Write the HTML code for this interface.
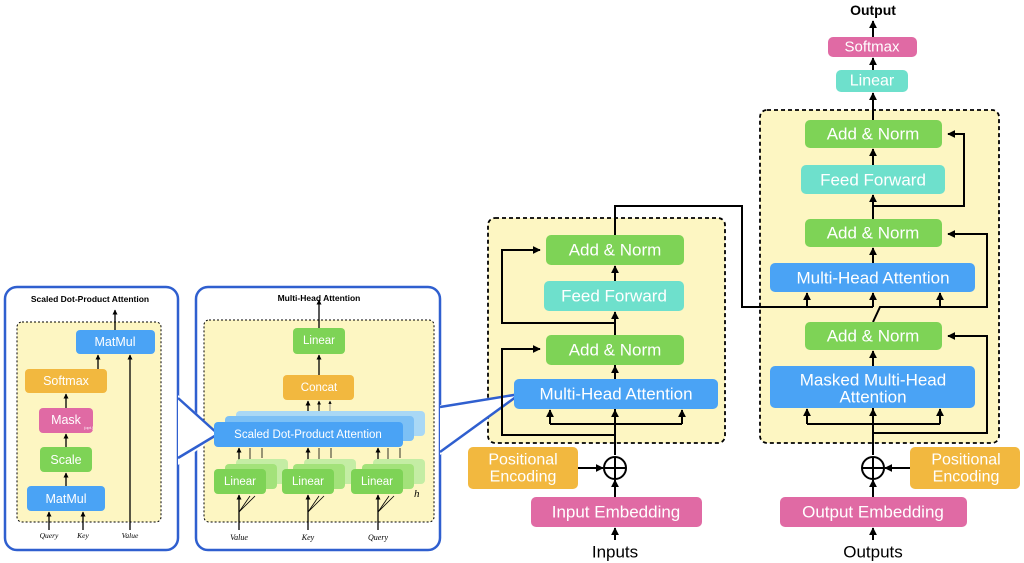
<!DOCTYPE html>
<html><head><meta charset="utf-8"><style>
html,body{margin:0;padding:0;background:#fff;}
svg{display:block;font-family:"Liberation Sans",sans-serif;}
.w{fill:#fff;text-anchor:middle;dominant-baseline:central;}
</style></head><body>
<svg width="1024" height="563" viewBox="0 0 1024 563" xmlns="http://www.w3.org/2000/svg">
<defs>
<marker id="a" viewBox="0 0 10 10" refX="9" refY="5" markerWidth="4" markerHeight="4" orient="auto-start-reverse"><path d="M0,0 L10,5 L0,10 z" fill="#000"/></marker>
</defs>

<!-- Left panel 1 -->
<rect x="5" y="287" width="173" height="263" rx="12" fill="#fff" stroke="#2f5fcf" stroke-width="2.5"/>
<text x="90" y="299" text-anchor="middle" dominant-baseline="central" font-size="8.5" font-weight="bold">Scaled Dot-Product Attention</text>
<rect x="17" y="322" width="144" height="200" rx="5" fill="#fdf6c2" stroke="#000" stroke-dasharray="2,2"/>
<g stroke="#000" stroke-width="1.3" fill="none" marker-end="url(#a)">
<line x1="115" y1="330" x2="115" y2="310"/>
<line x1="98" y1="369" x2="98" y2="355"/>
<line x1="66" y1="408" x2="66" y2="394"/>
<line x1="66" y1="447" x2="66" y2="434"/>
<line x1="66" y1="486" x2="66" y2="473"/>
<line x1="49" y1="530" x2="49" y2="512"/>
<line x1="83" y1="530" x2="83" y2="512"/>
<line x1="130" y1="530" x2="130" y2="355"/>
</g>
<rect x="76" y="330" width="79" height="24" rx="4" fill="#4aa3f5"/><text class="w" x="115" y="342" font-size="12.5">MatMul</text>
<rect x="25" y="369" width="82" height="24" rx="4" fill="#f2b83f"/><text class="w" x="66" y="381" font-size="12.5">Softmax</text>
<rect x="39" y="408" width="54" height="25" rx="4" fill="#e06aa4"/><text class="w" x="66" y="420" font-size="12.5">Mask</text><text x="84" y="429" font-size="4" fill="#fff">(opt.)</text>
<rect x="40" y="447" width="52" height="25" rx="4" fill="#7ed356"/><text class="w" x="66" y="460" font-size="12.5">Scale</text>
<rect x="27" y="486" width="78" height="25" rx="4" fill="#4aa3f5"/><text class="w" x="66" y="499" font-size="12.5">MatMul</text>
<g font-family="Liberation Serif" font-style="italic" font-size="7.5" text-anchor="middle">
<text x="49" y="538">Query</text><text x="83" y="538">Key</text><text x="130" y="538">Value</text></g>

<!-- Panel 2 -->
<rect x="196" y="287" width="244" height="263" rx="12" fill="#fff" stroke="#2f5fcf" stroke-width="2.5"/>
<text x="319" y="298" text-anchor="middle" dominant-baseline="central" font-size="8.5" font-weight="bold">Multi-Head Attention</text>
<rect x="204" y="320" width="230" height="202" rx="5" fill="#fdf6c2" stroke="#000" stroke-dasharray="2,2"/>
<!-- callout 1 -->
<polygon points="178,395 218,434 178,465" fill="#fff"/>
<polyline points="178,398 218,434 178,458" fill="none" stroke="#2f5fcf" stroke-width="2.5"/>
<g stroke="#000" stroke-width="1.3" fill="none" marker-end="url(#a)">
<line x1="319" y1="328" x2="319" y2="300"/>
<line x1="319" y1="375" x2="319" y2="355"/>
<line x1="308" y1="422" x2="308" y2="401"/>
<line x1="319" y1="422" x2="319" y2="401" stroke-width="1"/>
<line x1="330" y1="422" x2="330" y2="401" stroke="#777" stroke-width="0.8"/>
<line x1="239" y1="530" x2="239" y2="495"/>
<line x1="308" y1="530" x2="308" y2="495"/>
<line x1="378" y1="530" x2="378" y2="495"/>
<line x1="239" y1="469" x2="239" y2="448"/>
<line x1="308" y1="469" x2="308" y2="448"/>
<line x1="378" y1="469" x2="378" y2="448"/>
</g>
<g stroke="#000" stroke-width="0.8">
<line x1="250" y1="448" x2="250" y2="462"/><line x1="262" y1="448" x2="262" y2="458"/>
<line x1="319" y1="448" x2="319" y2="462"/><line x1="331" y1="448" x2="331" y2="458"/>
<line x1="388" y1="448" x2="388" y2="462"/><line x1="400" y1="448" x2="400" y2="458"/>
<line x1="239" y1="512" x2="250" y2="496"/><line x1="239" y1="512" x2="255" y2="496"/>
<line x1="308" y1="512" x2="319" y2="496"/><line x1="308" y1="512" x2="324" y2="496"/>
<line x1="378" y1="512" x2="389" y2="496"/><line x1="378" y1="512" x2="394" y2="496"/>
</g>
<rect x="293" y="328" width="52" height="26" rx="4" fill="#7ed356"/><text class="w" x="319" y="341" font-size="11.5">Linear</text>
<rect x="283" y="375" width="71" height="25" rx="4" fill="#f2b83f"/><text class="w" x="319" y="388" font-size="11.5">Concat</text>
<rect x="236" y="411" width="189" height="25" rx="4" fill="#a9d8f5"/>
<rect x="225" y="416" width="189" height="25" rx="4" fill="#7cc0f5"/>
<rect x="214" y="422" width="189" height="25" rx="4" fill="#4aa3f5"/><text class="w" x="308" y="435" font-size="11.5">Scaled Dot-Product Attention</text>
<g>
<rect x="236" y="459" width="52" height="25" rx="4" fill="#c4eda4"/><rect x="225" y="464" width="52" height="25" rx="4" fill="#a3e27a"/><rect x="214" y="469" width="52" height="25" rx="4" fill="#7ed356"/><text class="w" x="240" y="482" font-size="11.5">Linear</text>
<rect x="304" y="459" width="52" height="25" rx="4" fill="#c4eda4"/><rect x="293" y="464" width="52" height="25" rx="4" fill="#a3e27a"/><rect x="282" y="469" width="52" height="25" rx="4" fill="#7ed356"/><text class="w" x="308" y="482" font-size="11.5">Linear</text>
<rect x="373" y="459" width="52" height="25" rx="4" fill="#c4eda4"/><rect x="362" y="464" width="52" height="25" rx="4" fill="#a3e27a"/><rect x="351" y="469" width="52" height="25" rx="4" fill="#7ed356"/><text class="w" x="377" y="482" font-size="11.5">Linear</text>
</g>
<text x="414" y="497" font-family="Liberation Serif" font-style="italic" font-size="11">h</text>
<g font-family="Liberation Serif" font-style="italic" font-size="8" text-anchor="middle">
<text x="239" y="540">Value</text><text x="308" y="540">Key</text><text x="378" y="540">Query</text></g>

<!-- Encoder -->
<rect x="488" y="218" width="237" height="225" rx="7" fill="#fdf6c2" stroke="#000" stroke-width="1.8" stroke-dasharray="4,3"/>
<!-- callout 2 -->
<polygon points="440,405 520,394 440,455" fill="#fff"/>
<polyline points="440,407 520,394 440,452" fill="none" stroke="#2f5fcf" stroke-width="2.5"/>
<g stroke="#000" stroke-width="2" fill="none">
<polyline points="615,235 615,206 742,206 742,307 873,307"/>
<polyline points="615,435 502,435 502,349 540,349" marker-end="url(#a)"/>
<polyline points="615,323 502,323 502,250 540,250" marker-end="url(#a)"/>
<line x1="615" y1="455" x2="615" y2="323"/>
<polyline points="550,424 682,424"/>
<line x1="550" y1="424" x2="550" y2="410" marker-end="url(#a)"/>
<line x1="615" y1="424" x2="615" y2="410" marker-end="url(#a)"/>
<line x1="682" y1="424" x2="682" y2="410" marker-end="url(#a)"/>
<line x1="615" y1="379" x2="615" y2="366" marker-end="url(#a)"/>
<line x1="615" y1="335" x2="615" y2="312" marker-end="url(#a)"/>
<line x1="615" y1="281" x2="615" y2="266" marker-end="url(#a)"/>
<line x1="615" y1="497" x2="615" y2="480" marker-end="url(#a)"/>
<line x1="615" y1="540" x2="615" y2="528" marker-end="url(#a)"/>
<line x1="578" y1="468" x2="603" y2="468" marker-end="url(#a)"/>
<circle cx="615" cy="468" r="11"/><line x1="604" y1="468" x2="626" y2="468"/><line x1="615" y1="457" x2="615" y2="479"/>
</g>
<rect x="546" y="235" width="138" height="30" rx="5" fill="#7ed356"/><text class="w" x="615" y="250" font-size="17">Add &amp; Norm</text>
<rect x="544" y="281" width="140" height="30" rx="5" fill="#6ee0cc"/><text class="w" x="614" y="296" font-size="17">Feed Forward</text>
<rect x="546" y="335" width="138" height="30" rx="5" fill="#7ed356"/><text class="w" x="615" y="350" font-size="17">Add &amp; Norm</text>
<rect x="514" y="379" width="204" height="30" rx="5" fill="#4aa3f5"/><text class="w" x="616" y="394" font-size="17">Multi-Head Attention</text>
<rect x="468" y="447" width="110" height="42" rx="5" fill="#f2b83f"/><text class="w" x="523" y="460" font-size="16">Positional</text><text class="w" x="523" y="477" font-size="16">Encoding</text>
<rect x="531" y="497" width="171" height="30" rx="5" fill="#e06aa4"/><text class="w" x="616" y="512" font-size="17">Input Embedding</text>
<text x="615" y="552" text-anchor="middle" dominant-baseline="central" font-size="17">Inputs</text>

<!-- Decoder -->
<rect x="760" y="110" width="239" height="333" rx="7" fill="#fdf6c2" stroke="#000" stroke-width="1.8" stroke-dasharray="4,3"/>
<g stroke="#000" stroke-width="2" fill="none">
<line x1="742" y1="307" x2="873" y2="307"/>
<line x1="807" y1="307" x2="807" y2="293" marker-end="url(#a)"/>
<line x1="873" y1="307" x2="873" y2="293" marker-end="url(#a)"/>
<polyline points="873,322 880,307 987,307 987,234 948,234" marker-end="url(#a)"/>
<line x1="940" y1="307" x2="940" y2="293" marker-end="url(#a)"/>
<polyline points="873,433 987,433 987,336 948,336" marker-end="url(#a)"/>
<polyline points="873,206 964,206 964,134 948,134" marker-end="url(#a)"/>
<line x1="873" y1="455" x2="873" y2="408"/>
<line x1="807" y1="424" x2="940" y2="424"/>
<line x1="807" y1="424" x2="807" y2="409" marker-end="url(#a)"/>
<line x1="873" y1="424" x2="873" y2="409" marker-end="url(#a)"/>
<line x1="940" y1="424" x2="940" y2="409" marker-end="url(#a)"/>
<line x1="873" y1="366" x2="873" y2="351" marker-end="url(#a)"/>
<line x1="873" y1="263" x2="873" y2="248" marker-end="url(#a)"/>
<line x1="873" y1="219" x2="873" y2="195" marker-end="url(#a)"/>
<line x1="873" y1="165" x2="873" y2="149" marker-end="url(#a)"/>
<line x1="873" y1="120" x2="873" y2="93" marker-end="url(#a)"/>
<line x1="873" y1="70" x2="873" y2="58" marker-end="url(#a)"/>
<line x1="873" y1="37" x2="873" y2="21" marker-end="url(#a)"/>
<line x1="873" y1="497" x2="873" y2="480" marker-end="url(#a)"/>
<line x1="873" y1="540" x2="873" y2="528" marker-end="url(#a)"/>
<line x1="910" y1="468" x2="885" y2="468" marker-end="url(#a)"/>
<circle cx="873" cy="468" r="11"/><line x1="862" y1="468" x2="884" y2="468"/><line x1="873" y1="457" x2="873" y2="479"/>
</g>
<text x="873" y="10" text-anchor="middle" dominant-baseline="central" font-size="14" font-weight="bold">Output</text>
<rect x="828" y="37" width="89" height="20" rx="5" fill="#e06aa4"/><text class="w" x="872" y="47" font-size="15">Softmax</text>
<rect x="836" y="70" width="72" height="22" rx="5" fill="#6ee0cc"/><text class="w" x="872" y="81" font-size="16">Linear</text>
<rect x="805" y="120" width="137" height="28" rx="5" fill="#7ed356"/><text class="w" x="873" y="134" font-size="17">Add &amp; Norm</text>
<rect x="801" y="165" width="144" height="29" rx="5" fill="#6ee0cc"/><text class="w" x="873" y="180" font-size="17">Feed Forward</text>
<rect x="805" y="219" width="137" height="28" rx="5" fill="#7ed356"/><text class="w" x="873" y="233" font-size="17">Add &amp; Norm</text>
<rect x="770" y="263" width="205" height="29" rx="5" fill="#4aa3f5"/><text class="w" x="873" y="278" font-size="17">Multi-Head Attention</text>
<rect x="805" y="322" width="137" height="28" rx="5" fill="#7ed356"/><text class="w" x="873" y="336" font-size="17">Add &amp; Norm</text>
<rect x="770" y="366" width="205" height="42" rx="5" fill="#4aa3f5"/><text class="w" x="873" y="380" font-size="17">Masked Multi-Head</text><text class="w" x="873" y="397" font-size="17">Attention</text>
<rect x="910" y="447" width="110" height="42" rx="5" fill="#f2b83f"/><text class="w" x="966" y="460" font-size="16">Positional</text><text class="w" x="966" y="477" font-size="16">Encoding</text>
<rect x="780" y="497" width="187" height="30" rx="5" fill="#e06aa4"/><text class="w" x="873" y="512" font-size="17">Output Embedding</text>
<text x="873" y="552" text-anchor="middle" dominant-baseline="central" font-size="17">Outputs</text>
</svg>
</body></html>
